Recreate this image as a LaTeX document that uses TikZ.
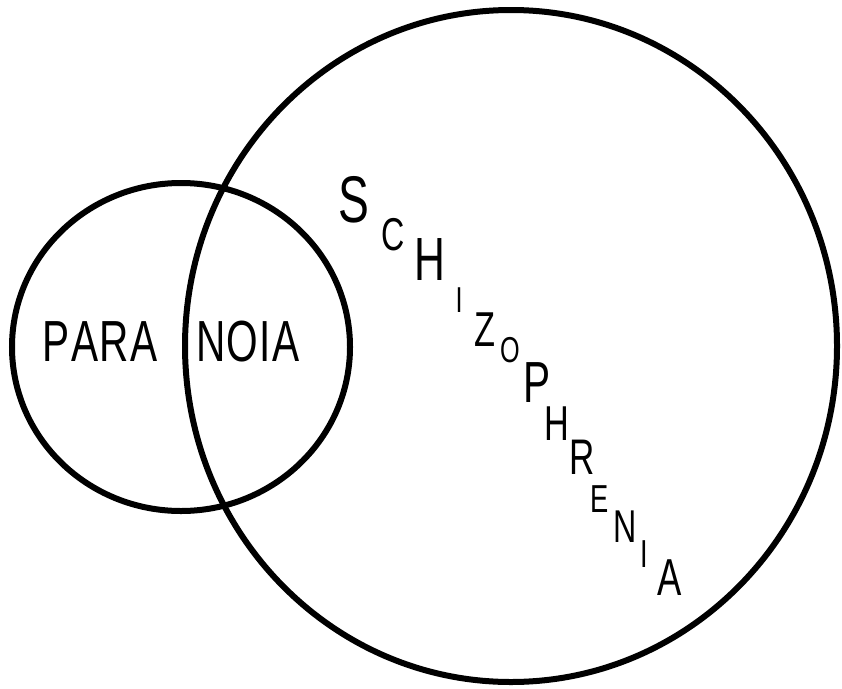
\documentclass[tikz,border=0pt]{standalone}
\usepackage{fontspec}
\setmainfont{Liberation Sans}
\tikzset{
  rim/.style={line width=6pt, line cap=round},
  word/.style={inner sep=0pt, font=\fontsize{58}{58}\selectfont},
}
\newcommand{\narrow}[1]{\scalebox{0.7}[1]{#1}}
\begin{document}
\begin{tikzpicture}[x=1pt,y=-1pt]
\useasboundingbox (0,0) rectangle (842,688);
% the two sets
\draw[rim] (181,347) ellipse [x radius=169, y radius=164];
\draw[rim] (511,346) ellipse [x radius=326, y radius=336];
% paranoia, split by the rim
\node[word] (para) at (100,342) {\narrow{P\kern2ptA\kern2ptR\kern2ptA}};
\node[word] (noia) at (248,342) {\narrow{N\kern2ptO\kern2ptI\kern2ptA}};
% schizophrenia, one letter at a time
\foreach \ch/\x/\y/\s [count=\i] in {S/354/200/66, C/393/235/46, H/430/260/61,
    I/459/300/36, Z/485/330/49, O/510/350/36, P/537/383/58, H/557/424/49,
    R/582/457/50, E/600/499/39, N/625/527/46, I/644/554/39, A/670/578/52}
  \node[inner sep=0pt, font=\fontsize{\s}{\s}\selectfont] (s\i) at (\x,\y) {\narrow{\ch}};
\end{tikzpicture}
\end{document}
